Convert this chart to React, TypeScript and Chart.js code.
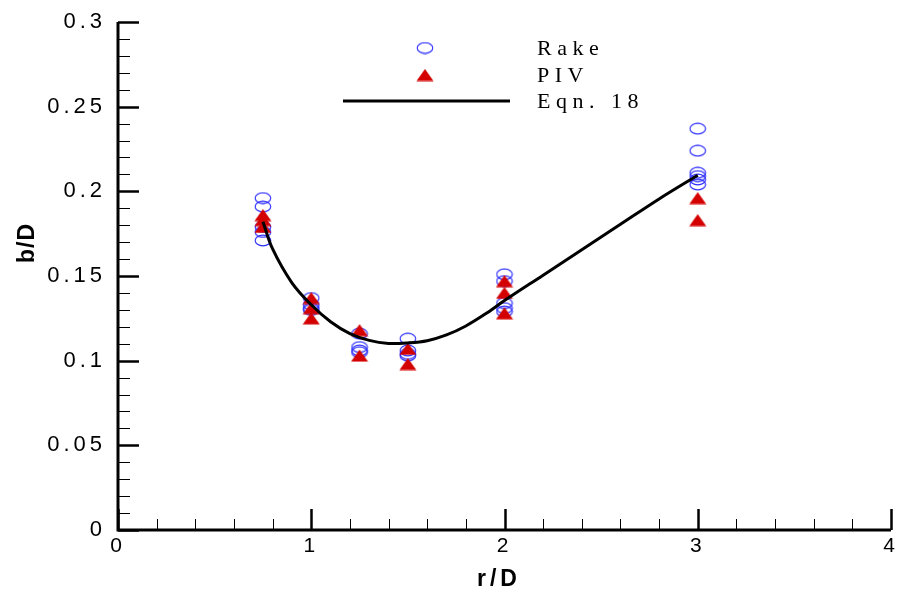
import React, { useEffect, useRef } from "react";
import { Chart, registerables } from "chart.js";

Chart.register(...registerables);

// ---- Data ----
const rakeX = [
  0.75, 0.75, 0.75, 0.75, 0.75,
  1, 1, 1, 1,
  1.25, 1.25, 1.25, 1.25,
  1.5, 1.5, 1.5, 1.5,
  2, 2, 2, 2, 2,
  3, 3, 3, 3, 3, 3,
];
const rakeY = [
  0.196, 0.191, 0.179, 0.176, 0.171,
  0.137, 0.133, 0.131, 0.13,
  0.116, 0.108, 0.106, 0.105,
  0.113, 0.106, 0.104, 0.103,
  0.151, 0.147, 0.134, 0.131, 0.129,
  0.237, 0.224, 0.211, 0.209, 0.207, 0.204,
];

const pivX = [0.75, 0.75, 0.75, 1, 1, 1, 1.25, 1.25, 1.5, 1.5, 2, 2, 2, 3, 3];
const pivY = [
  0.186, 0.183, 0.179,
  0.137, 0.131, 0.125,
  0.118, 0.103,
  0.107, 0.098,
  0.147, 0.14, 0.128,
  0.196, 0.183,
];

const eqnX = [0.75, 0.8, 0.9, 1.0, 1.1, 1.2, 1.3, 1.4, 1.5, 1.6, 1.7, 1.8, 1.9, 2.0, 2.2, 2.4, 2.6, 2.8, 3.0];
const eqnY = [0.182, 0.166, 0.146, 0.133, 0.123, 0.116, 0.112, 0.1102, 0.1105, 0.1118, 0.1152, 0.1205, 0.1275, 0.1355, 0.1505, 0.1655, 0.1805, 0.1955, 0.2095];

const xTickValues = [0, 1, 2, 3, 4];
const yTickValues = [0, 0.05, 0.1, 0.15, 0.2, 0.25, 0.3];

const legendLabels = ["Rake", "PIV", "Eqn. 18"];

const RAKE_COLOR = "rgb(40,40,255)";
const PIV_COLOR = "rgb(212,0,0)";

function makeEllipse(): HTMLCanvasElement {
  const c = document.createElement("canvas");
  c.width = 18;
  c.height = 13;
  const g = c.getContext("2d")!;
  g.strokeStyle = RAKE_COLOR;
  g.lineWidth = 1.1;
  g.beginPath();
  g.ellipse(9, 6.5, 7.8, 5.4, 0, 0, Math.PI * 2);
  g.stroke();
  return c;
}

function makeTriangle(): HTMLCanvasElement {
  const c = document.createElement("canvas");
  c.width = 18;
  c.height = 13;
  const g = c.getContext("2d")!;
  g.fillStyle = PIV_COLOR;
  g.beginPath();
  g.moveTo(9, 0.5);
  g.lineTo(17.5, 12.5);
  g.lineTo(0.5, 12.5);
  g.closePath();
  g.fill();
  return c;
}

export default function App() {
  const ref = useRef<HTMLCanvasElement | null>(null);

  useEffect(() => {
    document.body.style.margin = "0";
    const canvas = ref.current;
    if (!canvas) return;
    const ell = makeEllipse();
    const tri = makeTriangle();

    const decor = {
      id: "decor",
      beforeDraw(chart: any) {
        chart.ctx.letterSpacing = "4px";
      },
      beforeDatasetsDraw(chart: any) {
        chart.ctx.letterSpacing = "0px";
      },
      afterDraw(chart: any) {
        const ctx = chart.ctx as CanvasRenderingContext2D;
        const a = chart.chartArea;
        const xs = chart.scales.x;
        const ys = chart.scales.y;
        ctx.save();
        ctx.letterSpacing = "0px";
        ctx.strokeStyle = "#000";
        ctx.lineCap = "butt";
        // inward ticks on y axis
        for (let i = 0; i <= 30; i++) {
          const py = Math.round(ys.getPixelForValue(i / 100)) + 0.5;
          const major = i % 5 === 0;
          ctx.lineWidth = major ? 2.5 : 1;
          ctx.beginPath();
          ctx.moveTo(a.left, py);
          ctx.lineTo(a.left + (major ? 21 : 12), py);
          ctx.stroke();
        }
        // inward ticks on x axis
        for (let i = 0; i <= 20; i++) {
          const px = Math.round(xs.getPixelForValue(i / 5)) + 0.5;
          const major = i % 5 === 0;
          ctx.lineWidth = major ? 2.5 : 1;
          ctx.beginPath();
          ctx.moveTo(px, a.bottom);
          ctx.lineTo(px, a.bottom - (major ? 21 : 11));
          ctx.stroke();
        }
        // axis lines
        ctx.lineWidth = 3;
        ctx.beginPath();
        ctx.moveTo(a.left, a.top);
        ctx.lineTo(a.left, a.bottom);
        ctx.lineTo(a.right, a.bottom);
        ctx.stroke();

        // axis titles
        ctx.fillStyle = "#000";
        ctx.font = "bold 23px 'Liberation Sans', Arial, sans-serif";
        ctx.textAlign = "center";
        ctx.textBaseline = "middle";
        ctx.letterSpacing = "4px";
        ctx.fillText("r/D", 499, 580);
        ctx.save();
        ctx.translate(28, 243);
        ctx.rotate(-Math.PI / 2);
        ctx.letterSpacing = "1px";
        ctx.fillText("b/D", 0, 0);
        ctx.restore();

        // legend
        const lx = 425;
        const rows = [48, 75, 101];
        ctx.drawImage(ell, lx - 9, rows[0] - 6.5);
        ctx.drawImage(tri, lx - 9, rows[1] - 6.5);
        ctx.lineWidth = 3;
        ctx.beginPath();
        ctx.moveTo(343, rows[2]);
        ctx.lineTo(510, rows[2]);
        ctx.stroke();
        ctx.font = "22px 'Liberation Serif', 'Times New Roman', serif";
        ctx.textAlign = "left";
        ctx.textBaseline = "middle";
        ctx.letterSpacing = "5.5px";
        legendLabels.forEach((t, i) => ctx.fillText(t, 537, rows[i] + 1));
        ctx.restore();
      },
    };

    const chart = new Chart(canvas, {
      type: "scatter",
      data: {
        datasets: [
          {
            label: legendLabels[2],
            type: "line",
            data: eqnX.map((x, i) => ({ x, y: eqnY[i] })),
            borderColor: "#000",
            borderWidth: 3,
            pointRadius: 0,
            fill: false,
            tension: 0.35,
          } as any,
          {
            label: legendLabels[1],
            data: pivX.map((x, i) => ({ x, y: pivY[i] })),
            pointStyle: tri as any,
            pointRadius: 7,
          },
          {
            label: legendLabels[0],
            data: rakeX.map((x, i) => ({ x, y: rakeY[i] })),
            pointStyle: ell as any,
            pointRadius: 7,
          },
        ],
      },
      options: {
        responsive: false,
        animation: false,
        layout: { padding: { top: 22, right: 2, left: 0, bottom: 0 } },
        plugins: {
          legend: { display: false },
          tooltip: { enabled: false },
        },
        scales: {
          x: {
            type: "linear",
            min: 0,
            max: 4,
            afterBuildTicks: (s: any) => {
              s.ticks = xTickValues.map((v) => ({ value: v }));
            },
            ticks: {
              color: "#000",
              padding: 4,
              font: { family: "'Liberation Sans', Arial, sans-serif", size: 21 },
              maxRotation: 0,
              autoSkip: false,
              callback: (v: any) => String(v),
            },
            grid: { display: false, drawTicks: false, tickLength: 0 },
            border: { display: false },
            afterFit: (s: any) => {
              s.height = 67;
              s.paddingRight = 0;
              s.paddingLeft = 0;
            },
          },
          y: {
            type: "linear",
            min: 0,
            max: 0.3,
            afterBuildTicks: (s: any) => {
              s.ticks = yTickValues.map((v) => ({ value: v }));
            },
            ticks: {
              color: "#000",
              padding: 12,
              font: { family: "'Liberation Sans', Arial, sans-serif", size: 22 },
              autoSkip: false,
              callback: (v: any) => String(Number(Number(v).toFixed(2))),
            },
            grid: { display: false, drawTicks: false, tickLength: 0 },
            border: { display: false },
            afterFit: (s: any) => {
              s.width = 118;
              s.paddingTop = 0;
              s.paddingBottom = 0;
            },
          },
        },
      },
      plugins: [decor],
    });

    return () => chart.destroy();
  }, []);

  return (
    <div style={{ width: 899, height: 597 }}>
      <canvas ref={ref} width={899} height={597} style={{ display: "block" }} />
    </div>
  );
}
